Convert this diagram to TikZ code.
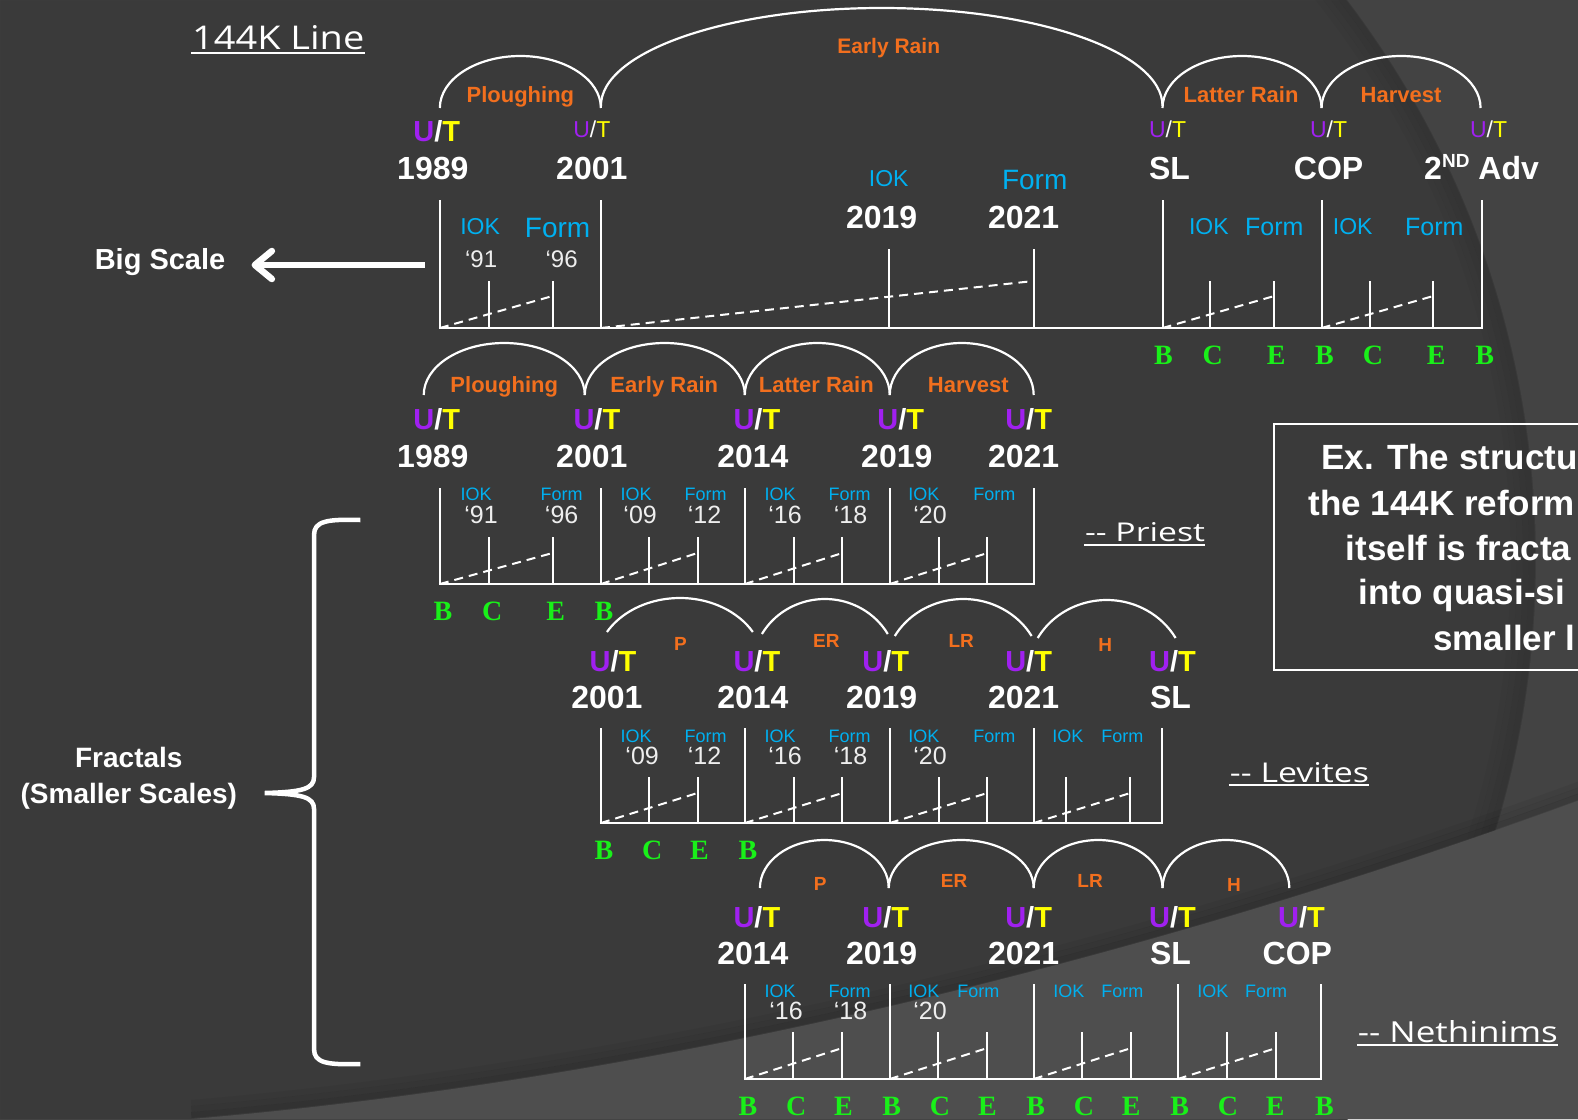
\documentclass[tikz,border=0pt]{standalone}
\usepackage{fontspec}
\setmainfont{Liberation Sans}
\newfontfamily\grnfont{Liberation Serif}
\newfontfamily\handfont{Open Sans}
\usepackage{graphicx}
\usetikzlibrary{arrows.meta}
\definecolor{bgc}{HTML}{3A3A3A}
\definecolor{bgr}{HTML}{434343}
\definecolor{bgl}{HTML}{4E4E4E}
\definecolor{orng}{HTML}{F26F1E}
\definecolor{utp}{HTML}{A020F0}
\definecolor{uty}{HTML}{FFFF00}
\definecolor{blu}{HTML}{00B0F0}
\definecolor{grn}{HTML}{19F019}
\definecolor{qgray}{HTML}{EEEEEE}
\newcommand{\fsz}[1]{\fontsize{#1}{#1}\selectfont}
\newcommand{\utm}{\textcolor{utp}{U}/\textcolor{uty}{T}}
\begin{document}
\begin{tikzpicture}[x=1.0065pt,y=-1pt,
  every node/.style={inner sep=0pt, outer sep=0pt, text=white, anchor=base},
  yr/.style={font=\fsz{32}\bfseries},
  utb/.style={font=\fsz{29}\bfseries},
  uts/.style={font=\fsz{23}},
  orl/.style={font=\fsz{22}\bfseries, text=orng},
  ors/.style={font=\fsz{19}\bfseries, text=orng},
  iokb/.style={font=\fsz{23}, text=blu},
  formb/.style={font=\fsz{28}, text=blu},
  formm/.style={font=\fsz{25}, text=blu},
  ioks/.style={font=\fsz{18}, text=blu},
  qy/.style={font=\fsz{25}, text=qgray},
  grnl/.style={font=\grnfont\fsz{28}\bfseries, text=grn},
  hand/.style={anchor=base west},
  bigl/.style={font=\fsz{29}\bfseries},
  boxt/.style={font=\fsz{35}\bfseries, anchor=base west},
  fr/.style={draw=white, line width=2pt},
  dsh/.style={draw=white, line width=2pt, dash pattern=on 9pt off 6pt},
  arcl/.style={draw=white, line width=2.2pt},
  ul/.style={draw=white, line width=1.6pt}
]
\useasboundingbox (0,0) rectangle (1567.8,1119);
\clip (0,0) rectangle (1567.8,1119);
% ---------- background ----------
\fill[bgc] (0,0) rectangle (1570,1119);
\fill[bgr, even odd rule] (0,0) rectangle (1570,1119) (596,560) circle[radius=930];
\foreach \r/\o in {926/0.10, 920/0.07, 914/0.05, 908/0.03}
  \draw[black, opacity=\o, line width=6pt] (596,560) circle[radius=\r];
\foreach \d/\o in {4/0.12, 10/0.08, 16/0.05}
  \draw[black, opacity=\o, line width=6pt] (190,{1119-\d}) .. controls (615,{1083-\d}) and (1095,{975-\d}) .. (1570,{800-\d});
\fill[bgl] (190,1119) .. controls (615,1083) and (1095,975) .. (1570,800) -- (1570,1119) -- cycle;

% ---------- titles ----------
\node[hand] (title) at (191,49) {\resizebox{172pt}{24pt}{\handfont 144K Line}};
\draw[ul] (190,53) -- (363,53);
\node[hand] (priest) at (1078,541) {\resizebox{120pt}{19pt}{\handfont -{}- Priest}};
\draw[ul] (1077,545) -- (1197,545);
\node[hand] (levites) at (1222,782) {\resizebox{139pt}{20pt}{\handfont -{}- Levites}};
\draw[ul] (1221,785) -- (1360,785);
\node[hand] (neth) at (1349,1042) {\resizebox{200pt}{22pt}{\handfont -{}- Nethinims}};
\draw[ul] (1348,1045) -- (1548,1045);

% ---------- left labels ----------
\node[bigl] (bigscale) at (159,269) {Big Scale};
\coordinate (bsA) at (422,265);
\coordinate (bsB) at (250,265);
\draw[white, line width=6.5pt, -{Straight Barb[length=17pt,width=28pt,round]}] (bsA) -- (bsB);
\node[font=\fsz{28}\bfseries] (fract1) at (128,767) {Fractals};
\node[font=\fsz{28}\bfseries] (fract2) at (128,803) {(Smaller Scales)};
\draw[white, line width=4.5pt] (358,520) .. controls (325,519) and (312,521) .. (312,535) -- (312,777)
  .. controls (312,789) and (300,792) .. (263,793) .. controls (300,794) and (312,797) .. (312,809)
  -- (312,1049) .. controls (312,1063) and (325,1065) .. (358,1064);

% ---------- text box ----------
\draw[white, line width=1.8pt] (1580,424) -- (1266,424) -- (1266,670) -- (1580,670);
\node[boxt] (bx1) at (1313,469) {Ex. The structu};
\node[boxt] (bx2) at (1300,515) {the 144K reform};
\node[boxt] (bx3) at (1337,560) {itself is fracta};
\node[boxt] (bx4) at (1350,604) {into quasi-si};
\node[boxt] (bx5) at (1424,650) {smaller l};

% ================= ROW 1 =================
\draw[arcl] (437,108) arc[start angle=180,end angle=360,x radius=80,y radius=52];
\draw[arcl] (597,106) arc[start angle=180,end angle=360,x radius=279,y radius=98];
\draw[arcl] (1155,108) arc[start angle=180,end angle=360,x radius=79,y radius=52];
\draw[arcl] (1313,108) arc[start angle=180,end angle=360,x radius=79,y radius=52];
\node[orl] (r1o1) at (517,102) {Ploughing};
\node[font=\fsz{21}\bfseries, text=orng] (r1o2) at (883,53) {Early Rain};
\node[orl] (r1o3) at (1233,102) {Latter Rain};
\node[orl] (r1o4) at (1392,102) {Harvest};
\node[utb] (r1u1) at (434,141) {\utm};
\node[uts] (r1u2) at (588,137) {\utm};
\node[uts] (r1u3) at (1160,137) {\utm};
\node[uts] (r1u4) at (1320,137) {\utm};
\node[uts] (r1u5) at (1479,137) {\utm};
\node[yr] (r1y1) at (430,179) {1989};
\node[yr] (r1y2) at (588,179) {2001};
\node[yr] (r1y3) at (1162,179) {SL};
\node[yr] (r1y4) at (1320,179) {COP};
\node[yr] (r1y5) at (1472,179) {2\raisebox{12pt}{\fsz{19}ND}\hspace{9pt}Adv};
\node[iokb] (r1i1) at (477,234) {IOK};
\node[formb] (r1f1) at (554,237) {Form};
\node[font=\fsz{24}, text=qgray] (r1q1) at (478,267) {‘91};
\node[font=\fsz{24}, text=qgray] (r1q2) at (558,267) {‘96};
\node[iokb] (r1i2) at (883,186) {IOK};
\node[formb] (r1f2) at (1028,189) {Form};
\node[yr] (r1y6) at (876,228) {2019};
\node[yr] (r1y7) at (1017,228) {2021};
\node[iokb] (r1i3) at (1201,234) {IOK};
\node[formm] (r1f3) at (1266,235) {Form};
\node[iokb] (r1i4) at (1344,234) {IOK};
\node[formm] (r1f4) at (1425,235) {Form};
% frame
\foreach \x in {437,597,1155,1313,1472} \draw[fr] (\x,200) -- (\x,329);
\draw[fr] (436,328) -- (1473,328);
\foreach \a/\p/\q in {437/486/549, 1155/1202/1266, 1313/1361/1424} {
  \draw[fr] (\p,281) -- (\p,328); \draw[fr] (\q,281) -- (\q,328);
  \draw[dsh] (\a,328) -- (\q,296);
}
\draw[fr] (883,249) -- (883,328); \draw[fr] (1027,249) -- (1027,328);
\draw[dsh] (597,328) -- (1027,281);
\foreach \x/\t [count=\i] in {1156/B,1205/C,1268/E,1316/B,1364/C,1427/E,1475/B}
  \node[grnl] (r1g\i) at (\x,364) {\t};

% ================= ROW 2 =================
\foreach \s/\a in {421/80, 581/79.5, 740/72, 884/71.5}
  \draw[arcl] (\s,395) arc[start angle=180,end angle=360,x radius=\a,y radius=52];
\foreach \x/\t [count=\i] in {501/Ploughing, 660/Early Rain, 811/Latter Rain, 962/Harvest}
  \node[orl] (r2o\i) at (\x,392) {\t};
\foreach \x [count=\i] in {434,593,752,895,1022}
  \node[utb] (r2u\i) at (\x,429) {\utm};
\foreach \x/\t [count=\i] in {430/1989,588/2001,748/2014,891/2019,1017/2021}
  \node[yr] (r2y\i) at (\x,467) {\t};
\foreach \x [count=\i] in {473,632,775,918}
  \node[ioks] (r2i\i) at (\x,500) {IOK};
\foreach \x [count=\i] in {558,701,844,988}
  \node[ioks] (r2f\i) at (\x,500) {Form};
\foreach \x/\t [count=\i] in {478/91,558/96,636/09,700/12,780/16,845/18,924/20}
  \node[qy] (r2q\i) at (\x,523) {‘\t};
\foreach \x in {437,597,740,884,1027} \draw[fr] (\x,488) -- (\x,585);
\draw[fr] (436,584) -- (1028,584);
\foreach \a/\p/\q in {437/486/549, 597/645/693, 740/789/837, 884/933/981} {
  \draw[fr] (\p,537) -- (\p,584); \draw[fr] (\q,537) -- (\q,584);
  \draw[dsh] (\a,584) -- (\q,553);
}
\foreach \x/\t [count=\i] in {440/B,489/C,552/E,600/B}
  \node[grnl] (r2g\i) at (\x,620) {\t};

% ================= ROW 3 =================
\foreach \s/\y/\a/\b in {603/632/83.7/68, 757/634/72.2/70, 889/636/78.5/74, 1031/638/79.1/76}
  \draw[arcl] (\s,\y) arc[start angle=210,end angle=330,x radius=\a,y radius=\b];
\foreach \x/\y/\t [count=\i] in {676/650/P, 821/647/ER, 955/647/LR, 1098/651/H}
  \node[ors] (r3o\i) at (\x,\y) {\t};
\foreach \x [count=\i] in {609,752,880,1022,1165}
  \node[utb] (r3u\i) at (\x,671) {\utm};
\foreach \x/\t [count=\i] in {603/2001,748/2014,876/2019,1017/2021,1163/SL}
  \node[yr] (r3y\i) at (\x,708) {\t};
\foreach \x [count=\i] in {632,775,918,1061}
  \node[ioks] (r3i\i) at (\x,742) {IOK};
\foreach \x [count=\i] in {701,844,988,1115}
  \node[ioks] (r3f\i) at (\x,742) {Form};
\foreach \x/\t [count=\i] in {638/09,700/12,780/16,845/18,924/20}
  \node[qy] (r3q\i) at (\x,764) {‘\t};
\foreach \x in {597,740,884,1027,1154} \draw[fr] (\x,728) -- (\x,824);
\draw[fr] (596,823) -- (1155,823);
\foreach \a/\p/\q in {597/645/693, 740/789/837, 884/933/981, 1027/1059/1123} {
  \draw[fr] (\p,777) -- (\p,823); \draw[fr] (\q,777) -- (\q,823);
  \draw[dsh] (\a,823) -- (\q,793);
}
\foreach \x/\t [count=\i] in {600/B,648/C,695/E,743/B}
  \node[grnl] (r3g\i) at (\x,859) {\t};

% ================= ROW 4 =================
\foreach \s/\a in {755/64, 883/72, 1027/64, 1155/63}
  \draw[arcl] (\s,888) arc[start angle=180,end angle=360,x radius=\a,y radius=48];
\foreach \x/\y/\t [count=\i] in {815/890/P, 948/887/ER, 1083/887/LR, 1226/891/H}
  \node[ors] (r4o\i) at (\x,\y) {\t};
\foreach \x [count=\i] in {752,880,1022,1165,1293}
  \node[utb] (r4u\i) at (\x,927) {\utm};
\foreach \x/\t [count=\i] in {748/2014,876/2019,1017/2021,1163/SL,1289/COP}
  \node[yr] (r4y\i) at (\x,964) {\t};
\foreach \x [count=\i] in {775,918,1062,1205}
  \node[ioks] (r4i\i) at (\x,997) {IOK};
\foreach \x [count=\i] in {844,972,1115,1258}
  \node[ioks] (r4f\i) at (\x,997) {Form};
\foreach \x/\t [count=\i] in {781/16,845/18,924/20}
  \node[qy] (r4q\i) at (\x,1019) {‘\t};
\foreach \x in {740,884,1027,1170,1312} \draw[fr] (\x,984) -- (\x,1080);
\draw[fr] (739,1079) -- (1313,1079);
\foreach \a/\p/\q in {740/788/837, 884/932/981, 1027/1075/1124, 1170/1219/1268} {
  \draw[fr] (\p,1032) -- (\p,1079); \draw[fr] (\q,1032) -- (\q,1079);
  \draw[dsh] (\a,1079) -- (\q,1048);
}
\foreach \x/\t [count=\i] in {743/B,791/C,838/E,886/B,934/C,981/E,1029/B,1077/C,1124/E,1172/B,1220/C,1267/E,1316/B}
  \node[grnl] (r4g\i) at (\x,1115) {\t};
\end{tikzpicture}
\end{document}
